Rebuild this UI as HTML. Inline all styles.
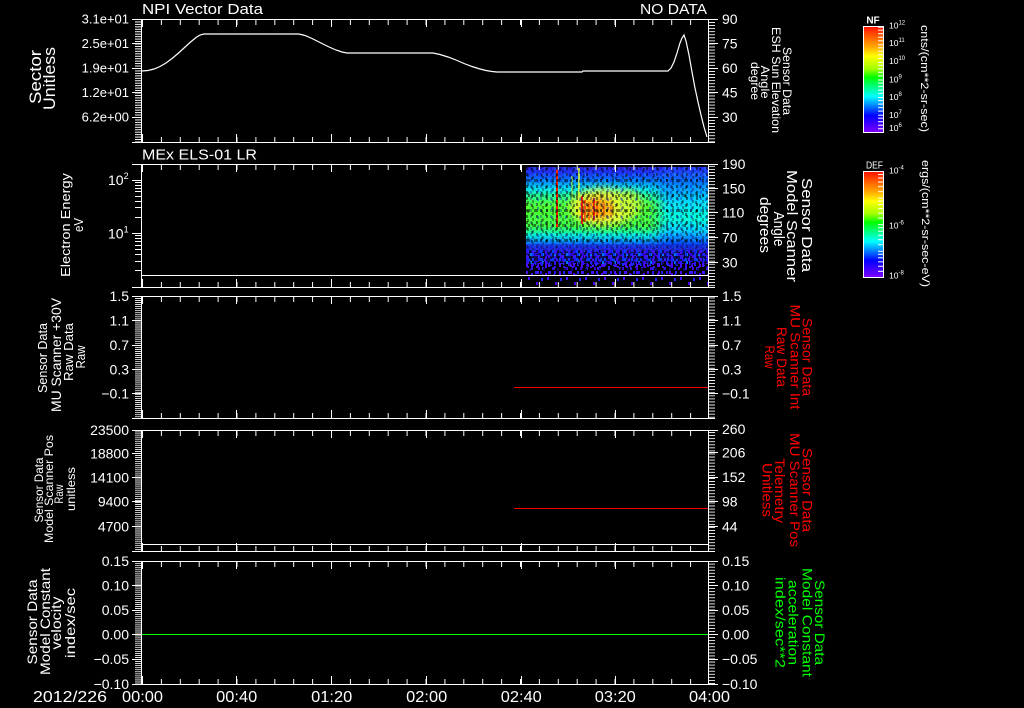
<!DOCTYPE html>
<html><head><meta charset="utf-8"><style>
html,body{margin:0;padding:0;background:#000;}
svg{display:block;}
text{font-family:"Liberation Sans",sans-serif;fill:#fff;}
</style></head><body>
<svg width="1024" height="708" viewBox="0 0 1024 708" xmlns="http://www.w3.org/2000/svg">
<defs>
<pattern id="xm" x="142" y="0" width="18.9" height="200" patternUnits="userSpaceOnUse"><rect width="1" height="200" fill="#fff" shape-rendering="crispEdges"/></pattern>
<pattern id="yl1" x="0" y="19" width="40" height="2.45" patternUnits="userSpaceOnUse"><rect width="40" height="1" fill="#fff" shape-rendering="crispEdges"/></pattern>
<pattern id="yl2" x="0" y="296" width="40" height="2.04" patternUnits="userSpaceOnUse"><rect width="40" height="1" fill="#fff" shape-rendering="crispEdges"/></pattern>
<pattern id="yr" x="0" y="19" width="40" height="3.06" patternUnits="userSpaceOnUse"><rect width="40" height="1" fill="#fff" shape-rendering="crispEdges"/></pattern>
<pattern id="cb1" x="0" y="26.7" width="40" height="17.6" patternUnits="userSpaceOnUse"><rect x="0" y="0" width="40" height="1" fill="#fff"/><rect x="0" y="3" width="40" height="1" fill="#fff"/><rect x="0" y="6.5" width="40" height="1" fill="#fff"/><rect x="0" y="10" width="40" height="1" fill="#fff"/><rect x="0" y="13.5" width="40" height="1" fill="#fff"/></pattern>
<pattern id="cb2" x="0" y="171" width="40" height="26.6" patternUnits="userSpaceOnUse"><rect x="0" y="0" width="40" height="1" fill="#fff"/><rect x="0" y="3" width="40" height="1" fill="#fff"/><rect x="0" y="6.5" width="40" height="1" fill="#fff"/><rect x="0" y="10.5" width="40" height="1" fill="#fff"/><rect x="0" y="15" width="40" height="1" fill="#fff"/><rect x="0" y="20" width="40" height="1" fill="#fff"/></pattern>
<linearGradient id="rb" x1="0" y1="0" x2="0" y2="1">
<stop offset="0" stop-color="#ff1000"/><stop offset="0.1" stop-color="#ff6000"/><stop offset="0.2" stop-color="#ffb000"/><stop offset="0.28" stop-color="#ffff00"/><stop offset="0.4" stop-color="#a0ff00"/><stop offset="0.48" stop-color="#00ff00"/><stop offset="0.58" stop-color="#00ff90"/><stop offset="0.66" stop-color="#00ffff"/><stop offset="0.75" stop-color="#0080ff"/><stop offset="0.84" stop-color="#0000ff"/><stop offset="1" stop-color="#8000ff"/>
</linearGradient>
<linearGradient id="sg1" x1="0" y1="167" x2="0" y2="252" gradientUnits="userSpaceOnUse">
<stop offset="0" stop-color="#3020d8"/><stop offset="0.08" stop-color="#1838ff"/><stop offset="0.16" stop-color="#0080ff"/><stop offset="0.26" stop-color="#00e0e8"/><stop offset="0.36" stop-color="#30ff80"/><stop offset="0.45" stop-color="#50ff30"/><stop offset="0.70" stop-color="#40ff40"/><stop offset="0.80" stop-color="#00f0d0"/><stop offset="0.88" stop-color="#0090ff"/><stop offset="0.95" stop-color="#2030ff"/><stop offset="1" stop-color="#3020e0"/>
</linearGradient>
<linearGradient id="sg2" x1="0" y1="167" x2="0" y2="252" gradientUnits="userSpaceOnUse">
<stop offset="0" stop-color="#2a30ff"/><stop offset="0.2" stop-color="#0080ff"/><stop offset="0.4" stop-color="#00d8ff"/><stop offset="0.6" stop-color="#00ffd8"/><stop offset="0.75" stop-color="#00d0ff"/><stop offset="0.9" stop-color="#0050ff"/><stop offset="1" stop-color="#2a20e0"/>
</linearGradient>
<linearGradient id="fadeR" x1="0" y1="0" x2="1" y2="0"><stop offset="0" stop-color="#fff" stop-opacity="0"/><stop offset="0.3" stop-color="#fff" stop-opacity="1"/></linearGradient>
<mask id="mR"><rect x="650" y="160" width="60" height="100" fill="url(#fadeR)"/></mask>
<pattern id="dk" x="526" y="167" width="10" height="6" patternUnits="userSpaceOnUse">
<rect x="0" y="0" width="2" height="3" fill="#000" fill-opacity="0.5"/><rect x="6" y="3" width="2" height="3" fill="#000" fill-opacity="0.35"/><rect x="4" y="0" width="2" height="3" fill="#0000a0" fill-opacity="0.3"/><rect x="8" y="0" width="2" height="3" fill="#00ffff" fill-opacity="0.15"/>
</pattern>
<pattern id="dk2" x="527" y="168" width="14" height="9" patternUnits="userSpaceOnUse">
<rect x="4" y="0" width="2" height="3" fill="#000" fill-opacity="0.45"/><rect x="10" y="3" width="2" height="3" fill="#0020c0" fill-opacity="0.4"/><rect x="0" y="6" width="2" height="3" fill="#000" fill-opacity="0.4"/>
</pattern>
<pattern id="dk3" x="526" y="170" width="6" height="15" patternUnits="userSpaceOnUse">
<rect x="2" y="9" width="2" height="3" fill="#000" fill-opacity="0.5"/><rect x="4" y="3" width="2" height="3" fill="#ffffff" fill-opacity="0.08"/>
</pattern>
<pattern id="spk1" x="526" y="250" width="12" height="8" patternUnits="userSpaceOnUse">
<rect x="0" y="0" width="2" height="3" fill="#2010ff"/><rect x="2" y="0" width="2" height="3" fill="#0040ff"/><rect x="6" y="0" width="2" height="3" fill="#4010ff"/><rect x="8" y="3" width="2" height="3" fill="#2a00e0"/><rect x="4" y="3" width="2" height="3" fill="#0070ff"/><rect x="10" y="5" width="2" height="3" fill="#5000ff"/><rect x="0" y="5" width="2" height="3" fill="#3020ff"/>
</pattern>
<pattern id="spk1b" x="527" y="251" width="9" height="5" patternUnits="userSpaceOnUse">
<rect x="0" y="0" width="2" height="3" fill="#3a10f0"/><rect x="5" y="2" width="2" height="3" fill="#1030ff"/>
</pattern>
<pattern id="spk2" x="526" y="262" width="14" height="9" patternUnits="userSpaceOnUse">
<rect x="0" y="0" width="2" height="3" fill="#3010ff"/><rect x="5" y="2" width="2" height="3" fill="#5000ff"/><rect x="9" y="0" width="2" height="3" fill="#2020ff"/><rect x="12" y="5" width="2" height="3" fill="#4000e0"/><rect x="3" y="6" width="2" height="3" fill="#2000ff"/>
</pattern>
<pattern id="spk2b" x="530" y="263" width="11" height="7" patternUnits="userSpaceOnUse">
<rect x="7" y="1" width="2" height="3" fill="#4a10ff"/><rect x="1" y="4" width="2" height="3" fill="#2a20e0"/>
</pattern>
<pattern id="spk3" x="526" y="276" width="19" height="12" patternUnits="userSpaceOnUse">
<rect x="2" y="1" width="2" height="3" fill="#4010ff"/><rect x="10" y="6" width="2" height="3" fill="#5000ff"/><rect x="15" y="2" width="2" height="3" fill="#2020ff"/>
</pattern>
<pattern id="hole" x="526" y="250" width="7" height="6" patternUnits="userSpaceOnUse">
<rect x="3" y="0" width="2" height="3" fill="#000"/>
</pattern>
<filter id="b4" x="-50%" y="-50%" width="200%" height="200%"><feGaussianBlur stdDeviation="4"/></filter>
<filter id="b2" x="-50%" y="-50%" width="200%" height="200%"><feGaussianBlur stdDeviation="2"/></filter>
</defs>
<rect width="1024" height="708" fill="#000"/>

<!-- Spectrogram -->
<g>
<rect x="526" y="167" width="142" height="85" fill="url(#sg1)"/>
<rect x="650" y="167" width="58" height="85" fill="url(#sg2)" mask="url(#mR)"/>
<ellipse cx="603" cy="207" rx="33" ry="19" fill="#ffff30" filter="url(#b4)" opacity="0.85"/>
<ellipse cx="630" cy="203" rx="12" ry="13" fill="#c0ff30" filter="url(#b4)" opacity="0.8"/>
<ellipse cx="597" cy="208" rx="17" ry="11" fill="#ff9a00" filter="url(#b4)" opacity="0.85"/>
<rect x="578" y="168" width="2" height="45" fill="#d8ff20" opacity="0.8"/>
<rect x="571" y="176" width="2" height="40" fill="#b0ff30" opacity="0.6"/>
<rect x="556" y="170" width="2" height="57" fill="#ff2000"/>
<rect x="581" y="196" width="2" height="28" fill="#ff2000"/>
<rect x="584" y="200" width="2" height="22" fill="#ff4000" opacity="0.9"/>
<rect x="588" y="202" width="2" height="18" fill="#ff6000" opacity="0.8"/>
<rect x="593" y="198" width="2" height="22" fill="#ff2000"/>
<rect x="596" y="201" width="2" height="16" fill="#ff5000" opacity="0.8"/>
<rect x="603" y="203" width="2" height="14" fill="#ff6000" opacity="0.7"/>
<rect x="610" y="205" width="2" height="12" fill="#ff8000" opacity="0.6"/>
<rect x="526" y="167" width="182" height="85" fill="url(#dk)"/>
<rect x="526" y="167" width="182" height="85" fill="url(#dk2)"/>
<rect x="526" y="167" width="182" height="85" fill="url(#dk3)"/>
<rect x="526" y="244" width="182" height="18" fill="#1a20c0" opacity="0.45"/>
<rect x="526" y="250" width="182" height="14" fill="url(#spk1)"/>
<rect x="526" y="250" width="182" height="18" fill="url(#spk1b)"/>
<rect x="526" y="262" width="182" height="13" fill="url(#spk2)"/>
<rect x="526" y="263" width="182" height="12" fill="url(#spk2b)"/>
<rect x="526" y="250" width="182" height="25" fill="url(#hole)" opacity="0.6"/>
<rect x="526" y="276" width="182" height="11" fill="url(#spk3)"/>
</g>

<!-- Frames -->
<g stroke="#fff" stroke-width="1" fill="none" shape-rendering="crispEdges">
<path d="M132 19.5H718M132 142.5H715M141.5 19V143M708.5 19V143"/>
<path d="M132 164.5H718M132 287.5H715M141.5 164V288M708.5 164V288M141 275.5H708"/>
<path d="M132 296.5H718M132 418.5H715M141.5 296V419M708.5 296V419"/>
<path d="M132 430.5H718M132 551.5H715M141.5 430V552M708.5 430V552M141 544.5H708"/>
<path d="M132 561.5H718M132 684.5H718M141.5 561V685M708.5 561V685"/>
<path d="M142.5 19V27M236.5 19V27M331.5 19V27M426.5 19V27M521.5 19V27M615.5 19V27M142.5 134V142M236.5 134V142M331.5 134V142M426.5 134V142M521.5 134V142M615.5 134V142"/>
<path d="M142.5 164V172M236.5 164V172M331.5 164V172M426.5 164V172M521.5 164V172M615.5 164V172M142.5 279V287M236.5 279V287M331.5 279V287M426.5 279V287M521.5 279V287M615.5 279V287"/>
<path d="M142.5 296V304M236.5 296V304M331.5 296V304M426.5 296V304M521.5 296V304M615.5 296V304M142.5 410V418M236.5 410V418M331.5 410V418M426.5 410V418M521.5 410V418M615.5 410V418"/>
<path d="M142.5 430V438M236.5 430V438M331.5 430V438M426.5 430V438M521.5 430V438M615.5 430V438M142.5 543V551M236.5 543V551M331.5 543V551M426.5 543V551M521.5 543V551M615.5 543V551"/>
<path d="M142.5 561V569M236.5 561V569M331.5 561V569M426.5 561V569M521.5 561V569M615.5 561V569M142.5 676V684M236.5 676V684M331.5 676V684M426.5 676V684M521.5 676V684M615.5 676V684"/>
<path d="M132 43.5H141M132 68.5H141M132 92.5H141M132 117.5H141"/>
<path d="M132 180.5H141M132 233.5H141"/>
<path d="M132 320.5H141M132 345.5H141M132 369.5H141M132 393.5H141"/>
<path d="M132 453.5H141M132 477.5H141M132 501.5H141M132 526.5H141"/>
<path d="M132 585.5H141M132 610.5H141M132 634.5H141M132 659.5H141"/>
<path d="M708 43.5H718M708 68.5H718M708 92.5H718M708 117.5H718"/>
<path d="M708 188.5H718M708 212.5H718M708 237.5H718M708 262.5H718"/>
<path d="M708 320.5H718M708 345.5H718M708 369.5H718M708 393.5H718"/>
<path d="M708 452.5H718M708 477.5H718M708 501.5H718M708 526.5H718"/>
<path d="M708 585.5H718M708 610.5H718M708 634.5H718M708 659.5H718"/>
<path d="M135 164.5H141M135 182.5H141M135 185.5H141M135 188.5H141M135 191.5H141M135 196.5H141M135 201.5H141M135 207.5H141M135 217.5H141M135 235.5H141M135 238.5H141M135 241.5H141M135 245.5H141M135 249.5H141M135 254.5H141M135 261.5H141M135 270.5H141"/>
</g>
<g fill="url(#xm)">
<rect x="142" y="20" width="566" height="5"/><rect x="142" y="137" width="566" height="5"/>
<rect x="142" y="165" width="566" height="5"/><rect x="142" y="282" width="566" height="5"/>
<rect x="142" y="297" width="566" height="5"/><rect x="142" y="413" width="566" height="5"/>
<rect x="142" y="431" width="566" height="5"/><rect x="142" y="546" width="566" height="5"/>
<rect x="142" y="562" width="566" height="5"/><rect x="142" y="679" width="566" height="5"/>
</g>
<rect x="135" y="19" width="6" height="123" fill="url(#yl1)"/>
<rect x="135" y="296" width="6" height="122" fill="url(#yl2)"/>
<rect x="135" y="430" width="6" height="121" fill="url(#yl2)"/>
<rect x="135" y="561" width="6" height="123" fill="url(#yl2)"/>
<rect x="709" y="19" width="6" height="123" fill="url(#yr)"/>
<rect x="709" y="164" width="6" height="123" fill="url(#yr)"/>
<rect x="709" y="296" width="6" height="122" fill="url(#yr)"/>
<rect x="709" y="430" width="6" height="121" fill="url(#yr)"/>
<rect x="709" y="561" width="6" height="123" fill="url(#yr)"/>

<!-- Data -->
<polyline fill="none" stroke="#fff" stroke-width="1.2" points="142,71 148,70.5 154,69 160,66.5 166,63 172,58.5 178,53.5 184,48 190,42.5 196,37.5 200,35 204,34 299,34 305,35.5 312,38.5 320,42.5 328,46.5 336,50 342,52 347,53 433,53 440,54.5 448,57 456,60 464,63.5 472,66.5 480,69 486,70.5 492,71.5 497,72 582,72 583,71 668,71 671,68 674,62 677,53 680,43 682,38 684,35 686,41 689,55 692,72 695,88 698,102 701,115 704,127 707,137"/>
<g shape-rendering="crispEdges" stroke-width="1" fill="none">
<path d="M514 387.5H708" stroke="#ff0000"/>
<path d="M514 508.5H708" stroke="#ff0000"/>
<path d="M142 634.5H708" stroke="#00ff00"/>
</g>

<!-- Titles -->
<text x="142" y="14" font-size="15" textLength="121" lengthAdjust="spacingAndGlyphs">NPI Vector Data</text>
<text x="640" y="14" font-size="15" textLength="67" lengthAdjust="spacingAndGlyphs">NO DATA</text>
<text x="142" y="159.5" font-size="15" textLength="115" lengthAdjust="spacingAndGlyphs">MEx ELS-01 LR</text>

<!-- Left tick labels -->
<g font-size="13" text-anchor="end">
<text x="129" y="23.7">3.1e+01</text><text x="129" y="48.2">2.5e+01</text><text x="129" y="72.7">1.9e+01</text><text x="129" y="97.2">1.2e+01</text><text x="129" y="121.7">6.2e+00</text>
</g>
<g font-size="14" text-anchor="end">
<text x="129" y="301">1.5</text><text x="129" y="325.7">1.1</text><text x="129" y="350">0.7</text><text x="129" y="374.3">0.3</text><text x="129" y="398.3">−0.1</text>
<text x="129" y="435">23500</text><text x="129" y="458.3">18800</text><text x="129" y="482.3">14100</text><text x="129" y="506.7">9400</text><text x="129" y="531.7">4700</text>
<text x="129" y="566">0.15</text><text x="129" y="590.7">0.10</text><text x="129" y="615">0.05</text><text x="129" y="639.3">0.00</text><text x="129" y="664">−0.05</text><text x="129" y="689">−0.10</text>
</g>
<text x="108" y="185" font-size="14">10<tspan dy="-6" font-size="9">2</tspan></text>
<text x="108" y="238.3" font-size="14">10<tspan dy="-6" font-size="9">1</tspan></text>

<!-- Right tick labels -->
<g font-size="14">
<text x="722" y="24">90</text><text x="722" y="48.5">75</text><text x="722" y="73">60</text><text x="722" y="97.5">45</text><text x="722" y="122">30</text>
<text x="722" y="169">190</text><text x="722" y="193.3">150</text><text x="722" y="217.3">110</text><text x="722" y="242.3">70</text><text x="722" y="267.3">30</text>
<text x="722" y="301">1.5</text><text x="722" y="325.7">1.1</text><text x="722" y="350">0.7</text><text x="722" y="374.3">0.3</text><text x="722" y="398.3">−0.1</text>
<text x="722" y="434">260</text><text x="722" y="457.7">206</text><text x="722" y="482">152</text><text x="722" y="506.3">98</text><text x="722" y="531.3">44</text>
<text x="722" y="566">0.15</text><text x="722" y="590.7">0.10</text><text x="722" y="615">0.05</text><text x="722" y="639.3">0.00</text><text x="722" y="664">−0.05</text><text x="722" y="689">−0.10</text>
</g>

<!-- Bottom labels -->
<g font-size="16" text-anchor="middle">
<text x="142.5" y="702" textLength="41" lengthAdjust="spacingAndGlyphs">00:00</text>
<text x="236.7" y="702" textLength="41" lengthAdjust="spacingAndGlyphs">00:40</text>
<text x="331.7" y="702" textLength="41" lengthAdjust="spacingAndGlyphs">01:20</text>
<text x="426.7" y="702" textLength="41" lengthAdjust="spacingAndGlyphs">02:00</text>
<text x="521.3" y="702" textLength="41" lengthAdjust="spacingAndGlyphs">02:40</text>
<text x="615.3" y="702" textLength="41" lengthAdjust="spacingAndGlyphs">03:20</text>
<text x="709.5" y="702" textLength="41" lengthAdjust="spacingAndGlyphs">04:00</text>
</g>
<text x="33" y="702" font-size="16" textLength="74" lengthAdjust="spacingAndGlyphs">2012/226</text>

<!-- Left rotated labels -->
<g text-anchor="middle">
<text transform="translate(41,77) rotate(-90)" font-size="17" textLength="54" lengthAdjust="spacingAndGlyphs">Sector</text>
<text transform="translate(55,78.5) rotate(-90)" font-size="17" textLength="63" lengthAdjust="spacingAndGlyphs">Unitless</text>
<text transform="translate(70,225) rotate(-90)" font-size="13" textLength="104" lengthAdjust="spacingAndGlyphs">Electron Energy</text>
<text transform="translate(83,225) rotate(-90)" font-size="13" textLength="14" lengthAdjust="spacingAndGlyphs">eV</text>
<text transform="translate(47,358) rotate(-90)" font-size="13" textLength="70" lengthAdjust="spacingAndGlyphs">Sensor Data</text>
<text transform="translate(61,355) rotate(-90)" font-size="14" textLength="114" lengthAdjust="spacingAndGlyphs">MU Scanner +30V</text>
<text transform="translate(73,352) rotate(-90)" font-size="13" textLength="58" lengthAdjust="spacingAndGlyphs">Raw Data</text>
<text transform="translate(85,357) rotate(-90)" font-size="13" textLength="23" lengthAdjust="spacingAndGlyphs">Raw</text>
<text transform="translate(43,490) rotate(-90)" font-size="12" textLength="65" lengthAdjust="spacingAndGlyphs">Sensor Data</text>
<text transform="translate(53,489) rotate(-90)" font-size="12" textLength="108" lengthAdjust="spacingAndGlyphs">Model Scanner Pos</text>
<text transform="translate(63,494) rotate(-90)" font-size="12" textLength="19" lengthAdjust="spacingAndGlyphs">Raw</text>
<text transform="translate(75,489) rotate(-90)" font-size="12" textLength="44" lengthAdjust="spacingAndGlyphs">unitless</text>
<text transform="translate(37,622) rotate(-90)" font-size="14" textLength="85" lengthAdjust="spacingAndGlyphs">Sensor Data</text>
<text transform="translate(50,621.5) rotate(-90)" font-size="14" textLength="107" lengthAdjust="spacingAndGlyphs">Model Constant</text>
<text transform="translate(61,623) rotate(-90)" font-size="14" textLength="53" lengthAdjust="spacingAndGlyphs">velocity</text>
<text transform="translate(75,623) rotate(-90)" font-size="14" textLength="70" lengthAdjust="spacingAndGlyphs">index/sec</text>
</g>

<!-- Right rotated labels -->
<g text-anchor="middle">
<text transform="translate(783,81) rotate(90)" font-size="12" textLength="68" lengthAdjust="spacingAndGlyphs">Sensor Data</text>
<text transform="translate(772,80) rotate(90)" font-size="12" textLength="106" lengthAdjust="spacingAndGlyphs">ESH Sun Elevation</text>
<text transform="translate(761,82) rotate(90)" font-size="12" textLength="33" lengthAdjust="spacingAndGlyphs">Angle</text>
<text transform="translate(751,81) rotate(90)" font-size="12" textLength="38" lengthAdjust="spacingAndGlyphs">degree</text>
<text transform="translate(802,225) rotate(90)" font-size="15" textLength="94" lengthAdjust="spacingAndGlyphs">Sensor Data</text>
<text transform="translate(787,226) rotate(90)" font-size="15" textLength="112" lengthAdjust="spacingAndGlyphs">Model Scanner</text>
<text transform="translate(774,229) rotate(90)" font-size="15" textLength="35" lengthAdjust="spacingAndGlyphs">Angle</text>
<text transform="translate(760,225) rotate(90)" font-size="15" textLength="56" lengthAdjust="spacingAndGlyphs">degrees</text>
</g>
<g text-anchor="middle">
<text style="fill:#ff0000" transform="translate(802.5,357) rotate(90)" font-size="14" textLength="78" lengthAdjust="spacingAndGlyphs">Sensor Data</text>
<text style="fill:#ff0000" transform="translate(790.5,357) rotate(90)" font-size="14" textLength="105" lengthAdjust="spacingAndGlyphs">MU Scanner Int</text>
<text style="fill:#ff0000" transform="translate(777,357) rotate(90)" font-size="14" textLength="60" lengthAdjust="spacingAndGlyphs">Raw Data</text>
<text style="fill:#ff0000" transform="translate(765,357) rotate(90)" font-size="14" textLength="23" lengthAdjust="spacingAndGlyphs">Raw</text>
<text style="fill:#ff0000" transform="translate(802.5,490) rotate(90)" font-size="14" textLength="84" lengthAdjust="spacingAndGlyphs">Sensor Data</text>
<text style="fill:#ff0000" transform="translate(790,490) rotate(90)" font-size="14" textLength="114" lengthAdjust="spacingAndGlyphs">MU Scanner Pos</text>
<text style="fill:#ff0000" transform="translate(775,490.5) rotate(90)" font-size="14" textLength="65" lengthAdjust="spacingAndGlyphs">Telemetry</text>
<text style="fill:#ff0000" transform="translate(762.5,490) rotate(90)" font-size="14" textLength="54" lengthAdjust="spacingAndGlyphs">Unitless</text>
</g>
<g text-anchor="middle">
<text style="fill:#00ff00" transform="translate(815,622.5) rotate(90)" font-size="14" textLength="85" lengthAdjust="spacingAndGlyphs">Sensor Data</text>
<text style="fill:#00ff00" transform="translate(802.5,622.5) rotate(90)" font-size="14" textLength="109" lengthAdjust="spacingAndGlyphs">Model Constant</text>
<text style="fill:#00ff00" transform="translate(788.5,622.5) rotate(90)" font-size="14" textLength="85" lengthAdjust="spacingAndGlyphs">acceleration</text>
<text style="fill:#00ff00" transform="translate(775.5,622.5) rotate(90)" font-size="14" textLength="91" lengthAdjust="spacingAndGlyphs">index/sec**2</text>
</g>

<!-- Colorbars -->
<rect x="863.5" y="26.5" width="20" height="106" fill="url(#rb)" stroke="#fff" stroke-width="1" shape-rendering="crispEdges"/>
<rect x="878" y="27" width="5" height="105" fill="url(#cb1)"/>
<rect x="863.5" y="171.5" width="20" height="106" fill="url(#rb)" stroke="#fff" stroke-width="1" shape-rendering="crispEdges"/>
<rect x="878" y="172" width="5" height="105" fill="url(#cb2)"/>
<text x="873" y="23.5" font-size="10" font-weight="bold" text-anchor="middle">NF</text>
<text x="874.5" y="168.5" font-size="10" text-anchor="middle" textLength="17" lengthAdjust="spacingAndGlyphs">DEF</text>
<g font-size="8.5">
<text x="889" y="28.5">10<tspan dy="-4" font-size="6">12</tspan></text>
<text x="889" y="46.2">10<tspan dy="-4" font-size="6">11</tspan></text>
<text x="889" y="64.2">10<tspan dy="-4" font-size="6">10</tspan></text>
<text x="889" y="82.5">10<tspan dy="-4" font-size="6">9</tspan></text>
<text x="889" y="100.2">10<tspan dy="-4" font-size="6">8</tspan></text>
<text x="889" y="117.8">10<tspan dy="-4" font-size="6">7</tspan></text>
<text x="889" y="131.2">10<tspan dy="-4" font-size="6">6</tspan></text>
<text x="889" y="173.5">10<tspan dy="-4" font-size="6">-4</tspan></text>
<text x="889" y="228.5">10<tspan dy="-4" font-size="6">-6</tspan></text>
<text x="889" y="278.5">10<tspan dy="-4" font-size="6">-8</tspan></text>
</g>
<text transform="translate(921,78.5) rotate(90)" font-size="11" text-anchor="middle" textLength="107" lengthAdjust="spacingAndGlyphs">cnts/(cm**2-sr-sec)</text>
<text transform="translate(922,223.5) rotate(90)" font-size="11" text-anchor="middle" textLength="127" lengthAdjust="spacingAndGlyphs">ergs/(cm**2-sr-sec-eV)</text>
</svg>
</body></html>
